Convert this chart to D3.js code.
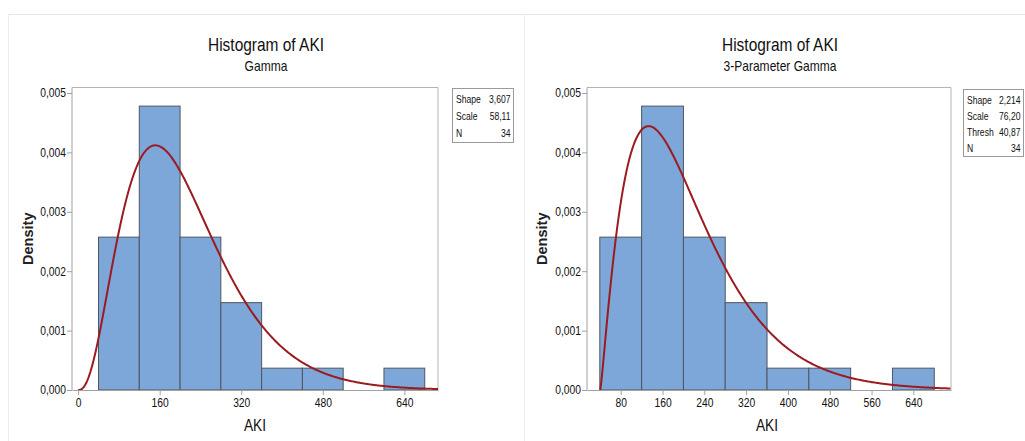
<!DOCTYPE html>
<html>
<head>
<meta charset="utf-8">
<script src="https://cdn.jsdelivr.net/npm/d3@7"></script>
<style>
  body { margin: 0; background: #fff; }
  svg { display: block; font-family: "Liberation Sans", Arial, sans-serif; }
</style>
</head>
<body>
<svg id="chart" width="1025" height="441"></svg>
<script>
// histogram bins (AKI), counts per bin
var binEdges = [40, 120, 200, 280, 360, 440, 520, 600, 680];
var binCounts = [7, 13, 7, 4, 1, 1, 0, 1];
var sampleN = 34;

var yTicks = [0, 0.001, 0.002, 0.003, 0.004, 0.005];
var xTicksLeft = [0, 160, 320, 480, 640];
var xTicksRight = [80, 160, 240, 320, 400, 480, 560, 640];

// fitted parameters (from the legend boxes)
var gammaFit = {shape: 3.607, scale: 58.11, thresh: 0};
var gamma3Fit = {shape: 2.214, scale: 76.20, thresh: 40.87};

var legendLeft = [["Shape", "3,607"], ["Scale", "58,11"], ["N", "34"]];
var legendRight = [["Shape", "2,214"], ["Scale", "76,20"], ["Thresh", "40,87"], ["N", "34"]];

var locale = d3.formatLocale({decimal: ",", thousands: ".", grouping: [3], currency: ["", ""]});
var fmt3 = locale.format(".3f");

var SQ = 0.86; // horizontal squeeze, the original font is narrow

function lnGamma(z) {
  // Lanczos approximation
  var g = 7;
  var c = [0.99999999999980993, 676.5203681218851, -1259.1392167224028, 771.32342877765313,
    -176.61502916214059, 12.507343278686905, -0.13857109526572012, 9.9843695780195716e-6, 1.5056327351493116e-7];
  z -= 1;
  var x = c[0];
  for (var i = 1; i < g + 2; i++) x += c[i] / (z + i);
  var t = z + g + 0.5;
  return 0.5 * Math.log(2 * Math.PI) + (z + 0.5) * Math.log(t) - t + Math.log(x);
}

function gammaPdf(p, v) {
  var x = v - p.thresh;
  if (x <= 0) return 0;
  return Math.exp((p.shape - 1) * Math.log(x) - x / p.scale - lnGamma(p.shape) - p.shape * Math.log(p.scale));
}

function condense(sel, sq) {
  sq = sq || SQ;
  sel.each(function () {
    var t = d3.select(this);
    var x = +t.attr("x") || 0, y = +t.attr("y") || 0;
    var prev = t.attr("transform") || "";
    t.attr("x", 0).attr("y", 0)
      .attr("transform", prev + " translate(" + x + "," + y + ") scale(" + sq + ",1)");
  });
}

var svg = d3.select("#chart");

// faint panel frames
svg.append("line").attr("x1", 8).attr("x2", 1025).attr("y1", 14.5).attr("y2", 14.5).attr("stroke", "#e6e6e6");
svg.append("line").attr("x1", 8.5).attr("x2", 8.5).attr("y1", 14).attr("y2", 441).attr("stroke", "#ececec");
svg.append("line").attr("x1", 524.5).attr("x2", 524.5).attr("y1", 14).attr("y2", 441).attr("stroke", "#ececec");

function drawPanel(o) {
  var g = svg.append("g");

  var x = d3.scaleLinear().domain(o.xDomain).range([o.left, o.right]);
  var y = d3.scaleLinear().domain([0, 0.005]).range([o.bottom, 93]);

  var bins = binCounts.map(function (c, i) {
    return {x0: binEdges[i], x1: binEdges[i + 1], d: c / (sampleN * (binEdges[i + 1] - binEdges[i]))};
  });

  // frame (top + right)
  g.append("path")
    .attr("d", "M" + o.left + "," + o.top + "H" + o.right + "V" + o.bottom)
    .attr("fill", "none").attr("stroke", "#b4b4b4");

  g.selectAll("rect.bar")
    .data(bins.filter(function (b) { return b.d > 0; }))
    .join("rect")
    .attr("class", "bar")
    .attr("x", function (b) { return x(b.x0); })
    .attr("width", function (b) { return x(b.x1) - x(b.x0); })
    .attr("y", function (b) { return y(b.d); })
    .attr("height", function (b) { return y(0) - y(b.d); })
    .attr("fill", "#7da7d9")
    .attr("stroke", "#4f5660")
    .attr("stroke-width", 1);

  // fitted curve
  var pts = [];
  var start = Math.max(o.xDomain[0], o.fit.thresh);
  for (var v = start; v <= o.xDomain[1]; v += 2) pts.push([v, gammaPdf(o.fit, v)]);
  g.append("path")
    .datum(pts)
    .attr("fill", "none")
    .attr("stroke", "#9b1b1f")
    .attr("stroke-width", 2)
    .attr("d", d3.line().x(function (d) { return x(d[0]); }).y(function (d) { return y(d[1]); }));

  // axes
  var yAxis = g.append("g")
    .attr("transform", "translate(" + o.left + ",0)")
    .call(d3.axisLeft(y).tickValues(yTicks).tickFormat(fmt3).tickSize(5).tickSizeOuter(0));
  yAxis.select(".domain").attr("d", "M0," + o.top + "V" + o.bottom);

  var xAxis = g.append("g")
    .attr("transform", "translate(0," + o.bottom + ")")
    .call(d3.axisBottom(x).tickValues(o.xTicks).tickFormat(d3.format("d")).tickSize(5).tickSizeOuter(0));

  [yAxis, xAxis].forEach(function (a) {
    a.selectAll(".domain, .tick line").attr("stroke", "#a0a0a0");
    a.selectAll("text").attr("fill", "#111").style("font-size", "12px").style("font-family", null);
  });
  yAxis.selectAll("text").attr("x", -6);
  xAxis.selectAll("text").attr("y", 8);
  condense(yAxis.selectAll("text"));
  condense(xAxis.selectAll("text"));

  // titles
  g.append("text").attr("x", o.titleX).attr("y", 51)
    .attr("text-anchor", "middle").style("font-size", "18px").attr("fill", "#111")
    .text("Histogram of AKI").call(condense);
  g.append("text").attr("x", o.titleX).attr("y", 71)
    .attr("text-anchor", "middle").style("font-size", "14px").attr("fill", "#111")
    .text(o.subtitle).call(condense);

  g.append("text").attr("x", o.aX).attr("y", 431)
    .attr("text-anchor", "middle").style("font-size", "16px").attr("fill", "#111")
    .text("AKI").call(condense);
  g.append("text")
    .attr("transform", "translate(" + o.densX + "," + ((o.top + o.bottom) / 2) + ") rotate(-90)")
    .attr("text-anchor", "middle").style("font-size", "14.5px").style("font-weight", "bold").attr("fill", "#222")
    .text("Density");

  // legend box
  var lg = g.append("g").attr("transform", "translate(" + o.legX + "," + o.legY + ")");
  lg.append("rect").attr("x", 0.5).attr("y", 0.5)
    .attr("width", o.legW).attr("height", o.legend.length * o.legStep + 3)
    .attr("fill", "#fff").attr("stroke", "#9a9a9a");
  o.legend.forEach(function (row, i) {
    lg.append("text").attr("x", 4).attr("y", 15 + i * o.legStep)
      .style("font-size", "11px").attr("fill", "#111").text(row[0]).call(condense, 0.78);
    lg.append("text").attr("x", o.legW - 2.5).attr("y", 15 + i * o.legStep)
      .attr("text-anchor", "end").style("font-size", "11px").attr("fill", "#111").text(row[1]).call(condense, 0.78);
  });
}

drawPanel({
  left: 72, right: 438, top: 87.5, bottom: 390,
  xDomain: [-12, 706], xTicks: xTicksLeft, fit: gammaFit,
  titleX: 266, subtitle: "Gamma", aX: 255, densX: 33,
  legend: legendLeft, legX: 452, legY: 88, legW: 61, legStep: 17
});

drawPanel({
  left: 587, right: 951, top: 87.5, bottom: 390,
  xDomain: [15.5, 712], xTicks: xTicksRight, fit: gamma3Fit,
  titleX: 780, subtitle: "3-Parameter Gamma", aX: 767, densX: 547,
  legend: legendRight, legX: 963, legY: 89, legW: 60, legStep: 16
});
</script>
</body>
</html>
